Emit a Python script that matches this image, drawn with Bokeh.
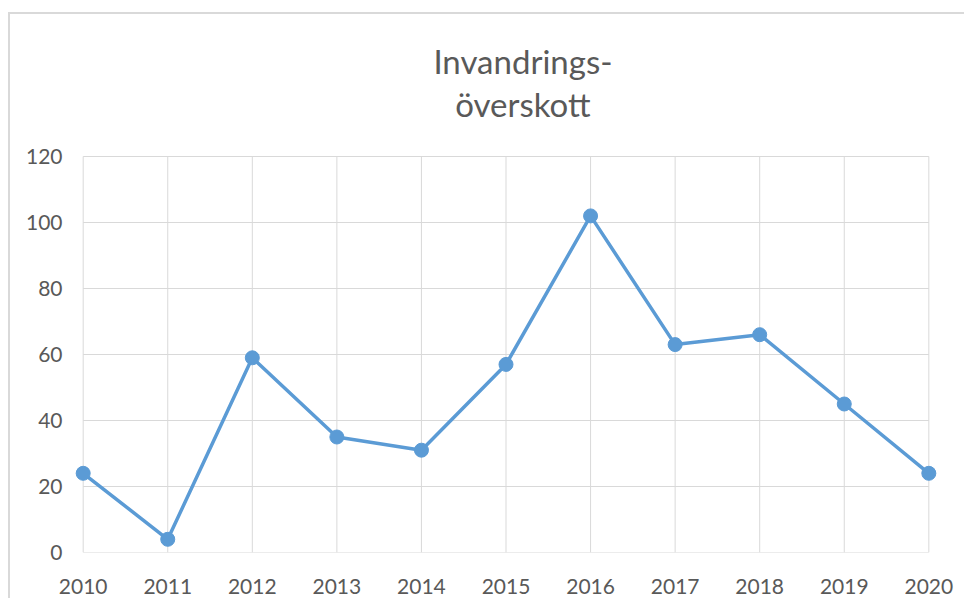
from bokeh.plotting import figure
from bokeh.models import FixedTicker, Range1d
from bokeh.core.properties import value
from bokeh.embed import file_html
from bokeh.resources import INLINE

years = [2010, 2011, 2012, 2013, 2014, 2015, 2016, 2017, 2018, 2019, 2020]
values = [24, 4, 59, 35, 31, 57, 102, 63, 66, 45, 24]
y_ticks = [0, 20, 40, 60, 80, 100, 120]
title_lines = ["Invandrings-", "överskott"]

LINE = "#5B9BD5"
TXT = "#595959"
GRID = "#D9D9D9"
FONT = "Lato"
pad = 0.15          # horizontal padding so edge markers are not clipped
y_top = 160         # frame extends above the grid to hold the title
title_x = 2015.2
title_y = [149, 136]

p = figure(width=956, height=586, output_backend="svg", toolbar_location=None,
           x_range=Range1d(years[0] - pad, years[-1] + pad),
           y_range=Range1d(y_ticks[0], y_top),
           min_border_left=60, min_border_right=25, min_border_top=10, min_border_bottom=48)
p.margin = (12, 0, 0, 8)
p.styles = {"border-left": "2px solid #D9D9D9", "border-top": "2px solid #D9D9D9"}
p.outline_line_color = None
p.xgrid.visible = False
p.ygrid.visible = False

# grid lines limited to the data area
p.segment(x0=[years[0]] * len(y_ticks), x1=[years[-1]] * len(y_ticks), y0=y_ticks, y1=y_ticks,
          line_color=GRID, line_width=1)
p.segment(x0=years, x1=years, y0=[y_ticks[0]] * len(years), y1=[y_ticks[-1]] * len(years),
          line_color=GRID, line_width=1)

p.line(years, values, line_color=LINE, line_width=3.5)
p.scatter(years, values, size=14, fill_color=LINE, line_color=LINE)

for ax in (p.xaxis, p.yaxis):
    ax.axis_line_color = None
    ax.major_tick_line_color = None
    ax.minor_tick_line_color = None
    ax.major_label_text_font = FONT
    ax.major_label_text_font_size = "21px"
    ax.major_label_text_color = TXT
p.xaxis.ticker = FixedTicker(ticks=years)
p.yaxis.ticker = FixedTicker(ticks=y_ticks)
p.xaxis.major_label_standoff = 20
p.yaxis.major_label_standoff = 2

p.text(x=[title_x] * len(title_lines), y=title_y, text=title_lines,
       text_align="center", text_baseline="alphabetic",
       text_font=value(FONT), text_font_size="33px", text_color=TXT)

open("out.html", "w").write(file_html(p, INLINE))
